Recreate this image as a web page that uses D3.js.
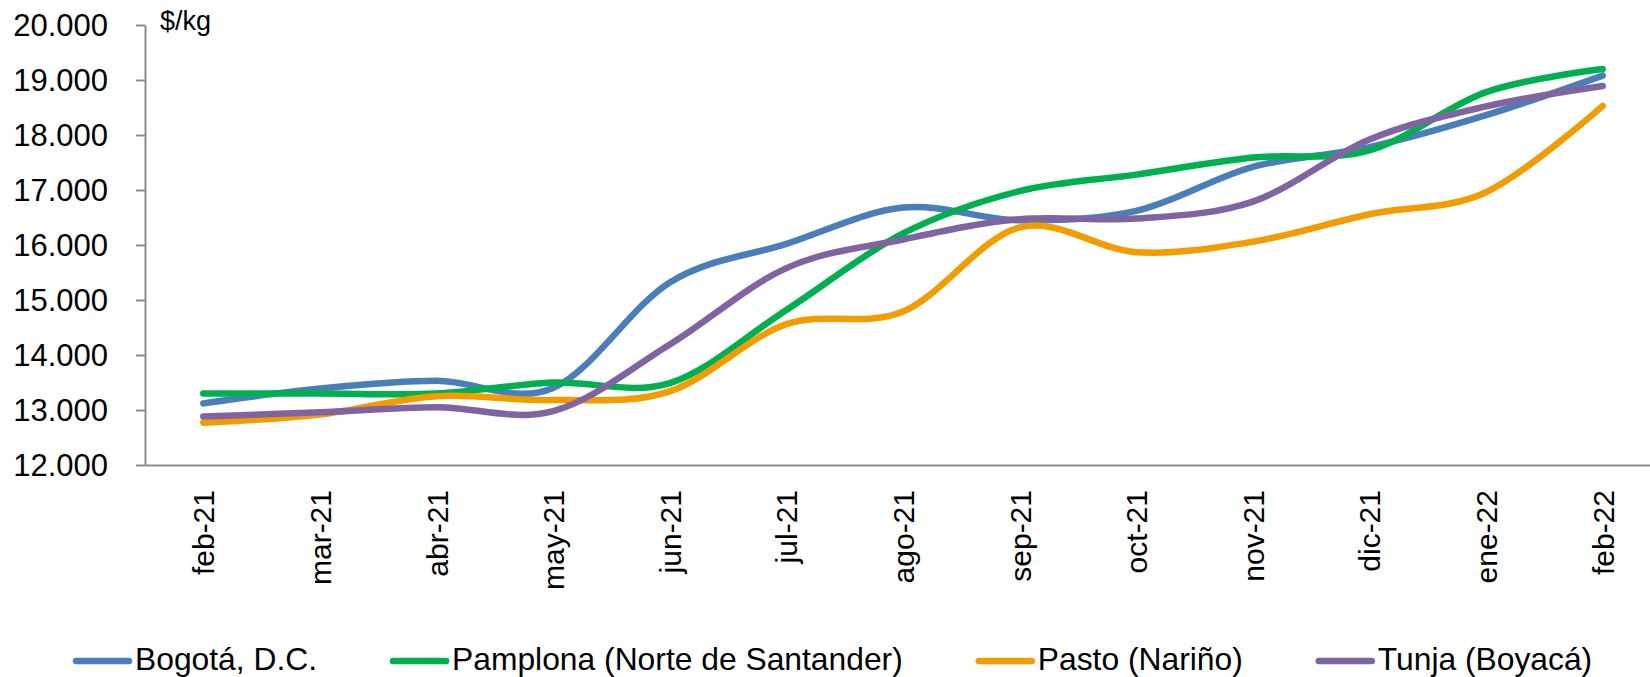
<!DOCTYPE html>
<html lang="es">
<head>
    <meta charset="UTF-8">
    <script src="https://cdn.jsdelivr.net/npm/d3@7"></script>
    <title>Precios $/kg</title>
    <style>
        body { margin: 0; background: white; }
        svg { font-family: "Liberation Sans", Arial, sans-serif; }
        .axis path, .axis line { stroke: #8c8c8c; stroke-width: 2px; }
        .axis text { fill: #000; }
    </style>
</head>
<body>
    <div id="chart"></div>
    <script>
        // Data
        const months = ["feb-21", "mar-21", "abr-21", "may-21", "jun-21", "jul-21", "ago-21",
            "sep-21", "oct-21", "nov-21", "dic-21", "ene-22", "feb-22"];
        const bogota = [13120, 13390, 13530, 13400, 15320, 16020, 16680, 16450, 16620, 17420, 17780, 18360, 19080];
        const pamplona = [13300, 13300, 13300, 13500, 13490, 14820, 16210, 16980, 17280, 17590, 17720, 18780, 19200];
        const pasto = [12770, 12920, 13250, 13180, 13340, 14560, 14790, 16320, 15870, 16060, 16560, 16960, 18530];
        const tunja = [12880, 12960, 13050, 12980, 14190, 15580, 16100, 16470, 16480, 16790, 17920, 18520, 18890];
        const seriesNames = ["Bogotá, D.C.", "Pamplona (Norte de Santander)", "Pasto (Nariño)", "Tunja (Boyacá)"];
        const seriesColors = ["#4a7ebb", "#00b050", "#f39c00", "#8064a2"];
        const yTicks = [12000, 13000, 14000, 15000, 16000, 17000, 18000, 19000, 20000];

        const width = 1650, height = 677;
        const plotLeft = 145, plotTop = 25, plotBottom = 465;

        const svg = d3.select("#chart").append("svg")
            .attr("width", width)
            .attr("height", height);

        const x = d3.scalePoint().domain(months).range([plotLeft, 1661]).padding(0.5);
        const y = d3.scaleLinear().domain([12000, 20000]).range([plotBottom, plotTop]);

        const fmt = d => d3.format(",")(d).replace(",", ".");

        // y axis
        svg.append("g")
            .attr("class", "axis")
            .attr("transform", `translate(${plotLeft},0)`)
            .call(d3.axisLeft(y).tickValues(yTicks).tickSize(9).tickSizeOuter(0).tickPadding(28).tickFormat(fmt))
            .call(g => g.selectAll("text").style("font-size", "31px").attr("dy", "0.35em"));

        // x axis
        svg.append("g")
            .attr("class", "axis")
            .attr("transform", `translate(0,${plotBottom})`)
            .call(d3.axisBottom(x).tickSize(0).tickSizeOuter(0))
            .call(g => g.selectAll("text")
                .style("font-size", "30px")
                .attr("text-anchor", "end")
                .attr("transform", "rotate(-90)")
                .attr("x", -25)
                .attr("y", 0)
                .attr("dy", "0.35em"));

        svg.append("text")
            .attr("x", 160)
            .attr("y", 30)
            .style("font-size", "27px")
            .text("$/kg");

        const allSeries = [bogota, pamplona, pasto, tunja];

        const line = d3.line()
            .x((d, i) => x(months[i]))
            .y(d => y(d))
            .curve(d3.curveCatmullRom.alpha(0));

        svg.selectAll(".series")
            .data(allSeries)
            .enter()
            .append("path")
            .attr("class", "series")
            .attr("d", line)
            .attr("fill", "none")
            .attr("stroke", (d, i) => seriesColors[i])
            .attr("stroke-width", 6.5)
            .attr("stroke-linecap", "round")
            .attr("stroke-linejoin", "round");

        // legend
        const legend = svg.append("g").attr("transform", "translate(0,661)");
        let lx = 73;
        seriesNames.forEach((name, i) => {
            legend.append("line")
                .attr("x1", lx + 3).attr("x2", lx + 56)
                .attr("y1", 0).attr("y2", 0)
                .attr("stroke", seriesColors[i])
                .attr("stroke-width", 6.5)
                .attr("stroke-linecap", "round");
            const t = legend.append("text")
                .attr("x", lx + 62)
                .attr("y", 9)
                .style("font-size", "31.8px")
                .text(name);
            lx += 62 + t.node().getComputedTextLength() + 73;
        });
    </script>
</body>
</html>
